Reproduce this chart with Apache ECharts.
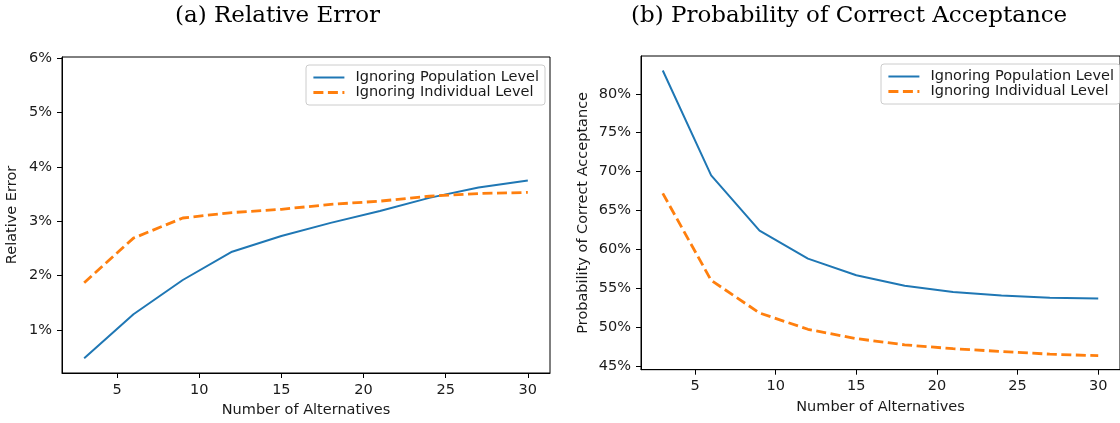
<!DOCTYPE html>
<html>
<head>
<meta charset="utf-8">
<script src="https://cdn.jsdelivr.net/npm/echarts@6/dist/echarts.min.js"></script>
<style>
html,body{margin:0;padding:0;background:#fff;}
#c{width:1120px;height:423px;}
</style>
</head>
<body>
<div id="c"></div>
<script>
// ---- data ----
const alternatives = [3, 6, 9, 12, 15, 18, 21, 24, 27, 30];
const seriesNames = ['Ignoring Population Level', 'Ignoring Individual Level'];
// (a) Relative Error, in %
const relErrPopulation = [0.48, 1.29, 1.92, 2.44, 2.73, 2.97, 3.19, 3.43, 3.62, 3.75];
const relErrIndividual = [1.87, 2.69, 3.06, 3.16, 3.22, 3.31, 3.37, 3.46, 3.51, 3.53];
// (b) Probability of Correct Acceptance, in %
const probPopulation = [83.0, 69.5, 62.4, 58.8, 56.65, 55.3, 54.5, 54.05, 53.75, 53.65];
const probIndividual = [67.2, 56.0, 51.8, 49.7, 48.5, 47.7, 47.2, 46.85, 46.5, 46.3];
// ticks
const xTicks = [5, 10, 15, 20, 25, 30];
const leftYTicks = [1, 2, 3, 4, 5, 6];
const rightYTicks = [45, 50, 55, 60, 65, 70, 75, 80];
const titles = ['(a) Relative Error', '(b) Probability of Correct Acceptance'];
const xName = 'Number of Alternatives';
const yNames = ['Relative Error', 'Probability of Correct Acceptance'];

const pair = (xs, ys) => xs.map((x, i) => [x, ys[i]]);
const BLUE = '#1f77b4', ORANGE = '#ff7f0e';
const FONT = 'DejaVu Sans';
const FS = 14.5;
const txt = '#1a1a1a';

function xAxis(gi, margin, nameGap) {
  return {
    type: 'value', gridIndex: gi, min: 1.65, max: 31.35,
    name: xName, nameLocation: 'middle', nameGap: nameGap,
    nameTextStyle: {fontFamily: FONT, fontSize: FS, color: txt},
    axisLine: {show: true, lineStyle: {color: '#000', width: 1}},
    axisTick: {show: true, length: 5, lineStyle: {color: '#000'}, customValues: xTicks},
    axisLabel: {fontFamily: FONT, fontSize: FS, color: txt, margin: margin, customValues: xTicks},
    splitLine: {show: false}
  };
}
function yAxis(gi, min, max, ticks, name, nameGap) {
  return {
    type: 'value', gridIndex: gi, min: min, max: max,
    name: name, nameLocation: 'middle', nameGap: nameGap,
    nameTextStyle: {fontFamily: FONT, fontSize: FS, color: txt},
    axisLine: {show: true, lineStyle: {color: '#000', width: 1}},
    axisTick: {show: true, length: 5, lineStyle: {color: '#000'}, customValues: ticks},
    axisLabel: {fontFamily: FONT, fontSize: FS, color: txt, margin: 10, customValues: ticks,
      formatter: v => Math.round(v) + '%'},
    splitLine: {show: false}
  };
}
function legend(left, top) {
  return {
    left: left, top: top, orient: 'vertical',
    data: seriesNames,
    itemWidth: 31, itemHeight: 10, itemGap: 0,
    padding: [5, 6, 5, 6],
    borderColor: '#cccccc', borderWidth: 1, borderRadius: 3,
    backgroundColor: 'rgba(255,255,255,0.8)',
    itemStyle: {opacity: 0},
    lineStyle: {width: 'inherit', type: 'inherit'},
    textStyle: {fontFamily: FONT, fontSize: FS, color: txt, lineHeight: 15, padding: [0, 0, 0, 6]},
    selectedMode: false
  };
}
function lineSeries(name, xi, data, color, dashed) {
  return {
    type: 'line', name: name, xAxisIndex: xi, yAxisIndex: xi,
    data: data, symbol: 'none', silent: true,
    lineStyle: dashed ? {color: color, width: 2.8, type: [10, 4.5]} : {color: color, width: 2},
    itemStyle: {color: color}
  };
}

const chart = echarts.init(document.getElementById('c'), null, {renderer: 'canvas'});
chart.setOption({
  animation: false,
  backgroundColor: '#fff',
  title: [
    {text: titles[0], left: 175, top: 5, padding: 0,
     textStyle: {fontFamily: 'DejaVu Serif', fontWeight: 'normal', fontSize: 23, color: '#000'}},
    {text: titles[1], left: 631, top: 5, padding: 0,
     textStyle: {fontFamily: 'DejaVu Serif', fontWeight: 'normal', fontSize: 23, color: '#000'}}
  ],
  grid: [
    {left: 62, top: 57, width: 488, height: 317, show: true, borderColor: '#000', borderWidth: 1, backgroundColor: 'transparent'},
    {left: 641, top: 56, width: 481, height: 313.7, show: true, borderColor: '#000', borderWidth: 1, backgroundColor: 'transparent'}
  ],
  xAxis: [xAxis(0, 10, 30), xAxis(1, 9, 30)],
  yAxis: [
    yAxis(0, 0.21, 6.02, leftYTicks, yNames[0], 42),
    yAxis(1, 44.5, 84.87, rightYTicks, yNames[1], 50)
  ],
  legend: [legend(306, 65), legend(881, 64)],
  series: [
    lineSeries(seriesNames[0], 0, pair(alternatives, relErrPopulation), BLUE, false),
    lineSeries(seriesNames[1], 0, pair(alternatives, relErrIndividual), ORANGE, true),
    lineSeries(seriesNames[0], 1, pair(alternatives, probPopulation), BLUE, false),
    lineSeries(seriesNames[1], 1, pair(alternatives, probIndividual), ORANGE, true)
  ]
});
</script>
</body>
</html>
